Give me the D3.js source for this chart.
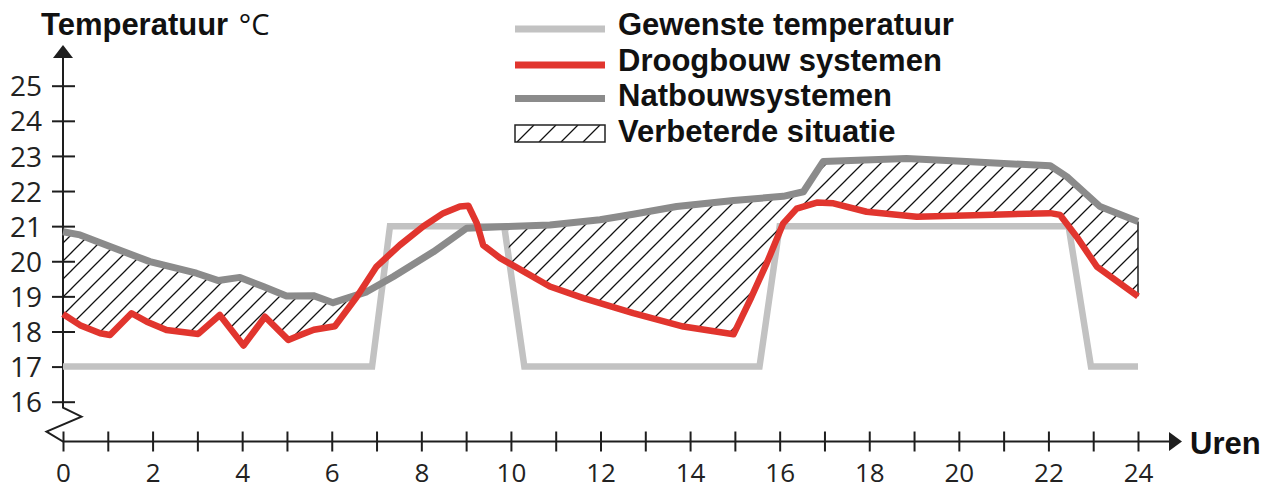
<!DOCTYPE html>
<html><head><meta charset="utf-8">
<script src="https://cdn.jsdelivr.net/npm/d3@7"></script>
<style>body{margin:0;background:#fff}</style>
</head><body>
<svg id="c" width="1273" height="490"></svg>
<script>
// ---- data ----
const hourTicks = d3.range(0, 25, 1);
const tempTicks = [16, 17, 18, 19, 20, 21, 22, 23, 24, 25];

const gewensteHours = [0, 6.9, 7.3, 9.85, 10.3, 15.55, 16.0, 22.45, 22.95, 24];
const gewensteTemp  = [17, 17, 21, 21, 17, 17, 21, 21, 17, 17];

const droogHours = [0, 0.38, 0.83, 1.05, 1.53, 1.87, 2.31, 3.02, 3.5, 4.03, 4.51, 5.03, 5.3, 5.6, 6.07, 6.56, 7.0, 7.52, 8.04, 8.49, 8.86, 9.05, 9.24, 9.38, 9.76, 10.35, 10.87, 11.62, 12.73, 13.85, 14.97, 15.34, 15.71, 16.08, 16.38, 16.83, 17.2, 17.94, 19.06, 20.55, 22.04, 22.26, 22.63, 23.08, 24];
const droogTemp  = [18.5, 18.18, 17.95, 17.9, 18.52, 18.28, 18.04, 17.93, 18.47, 17.6, 18.42, 17.76, 17.9, 18.05, 18.15, 18.99, 19.85, 20.46, 20.99, 21.37, 21.56, 21.58, 21.08, 20.46, 20.09, 19.66, 19.28, 18.95, 18.52, 18.14, 17.92, 18.9, 19.94, 21.08, 21.5, 21.67, 21.65, 21.41, 21.27, 21.32, 21.37, 21.32, 20.7, 19.85, 19.0];

const natHours = [0, 0.38, 1.05, 1.94, 2.98, 3.47, 3.95, 4.47, 4.99, 5.59, 6.03, 6.78, 7.37, 8.27, 9.01, 9.91, 10.87, 11.99, 12.73, 13.7, 14.97, 16.08, 16.53, 16.97, 18.83, 20.17, 22.04, 22.41, 23.15, 24];
const natTemp  = [20.84, 20.75, 20.42, 19.99, 19.66, 19.45, 19.54, 19.28, 19.01, 19.02, 18.82, 19.13, 19.56, 20.27, 20.94, 20.99, 21.03, 21.18, 21.34, 21.56, 21.73, 21.85, 21.98, 22.84, 22.93, 22.84, 22.72, 22.41, 21.56, 21.13];

// hour ranges where the "verbeterde situatie" hatch applies
const hatchStart = [0, 9.95];
const hatchEnd   = [6.4, 24];

const legendLabels = ["Gewenste temperatuur", "Droogbouw systemen", "Natbouwsystemen", "Verbeterde situatie"];

// ---- styles ----
const cLight = "#c2c2c2", cRed = "#e1352e", cDark = "#8b8b8b", cAxis = "#1e1e1e";
const boldFont = "'Liberation Sans', Arial, sans-serif";
const tickFont = "'Open Sans', 'Noto Sans', sans-serif";

const svg = d3.select("#c");
const x = d3.scaleLinear().domain([0, 24]).range([63, 1138]);
const y = d3.scaleLinear().domain([16, 25]).range([401.7, 85.7]);
const axisY = 441.5;

const defs = svg.append("defs");
const pat = defs.append("pattern").attr("id", "hatch").attr("patternUnits", "userSpaceOnUse")
  .attr("width", 18).attr("height", 18);
pat.append("path").attr("d", "M0,18 L18,0 M-4.5,4.5 L4.5,-4.5 M13.5,22.5 L22.5,13.5")
  .attr("stroke", "#111").attr("stroke-width", 1.3);
const pat2 = defs.append("pattern").attr("id", "hatchLeg").attr("patternUnits", "userSpaceOnUse")
  .attr("width", 22).attr("height", 17).attr("x", 515).attr("y", 125);
pat2.append("path").attr("d", "M2,17 L19,0")
  .attr("stroke", "#111").attr("stroke-width", 1.3);

const clip = defs.append("clipPath").attr("id", "hclip");
clip.selectAll("rect").data(hatchStart).join("rect")
  .attr("x", (d) => x(d)).attr("width", (d, i) => x(hatchEnd[i]) - x(d))
  .attr("y", 0).attr("height", 490);

const zip = (hs, ts) => hs.map((h, i) => [h, ts[i]]);
const gew = zip(gewensteHours, gewensteTemp);
const droog = zip(droogHours, droogTemp);
const nat = zip(natHours, natTemp);

const line = d3.line().x(d => x(d[0])).y(d => y(d[1]));

// ---- axes ----
const yAxis = d3.axisLeft(y).tickValues(tempTicks).tickFormat(d3.format("d"));
const gy = svg.append("g").attr("transform", `translate(${x(0)},0)`).call(yAxis);
gy.select(".domain").remove();
gy.selectAll(".tick line").attr("x1", -11).attr("x2", 12).attr("stroke", cAxis).attr("stroke-width", 2);
gy.selectAll(".tick text").attr("x", -21).attr("dy", "0.36em")
  .style("font-family", tickFont).style("font-size", "28px").attr("fill", "#222");

const xAxis = d3.axisBottom(x).tickValues(hourTicks).tickFormat(d => d % 2 === 0 ? d : "");
const gx = svg.append("g").attr("transform", `translate(0,${axisY})`).call(xAxis);
gx.select(".domain").remove();
gx.selectAll(".tick line").attr("y1", -10).attr("y2", 10).attr("stroke", cAxis).attr("stroke-width", 2);
gx.selectAll(".tick text").attr("y", 40.5).attr("dy", 0)
  .style("font-family", tickFont).style("font-size", "26px").attr("fill", "#222");

// axis lines, arrows, break
svg.append("path")
  .attr("d", `M${x(0)},56 L${x(0)},${y(16) + 6} L${x(0) + 18.5},${y(16) + 15} L${x(0) - 16.5},${y(16) + 30} L${x(0)},${axisY} L1171,${axisY}`)
  .attr("fill", "none").attr("stroke", cAxis).attr("stroke-width", 2).attr("stroke-linejoin", "miter");
svg.append("path").attr("d", `M${x(0)},45 L${x(0) - 10},58 L${x(0) + 10},58 Z`).attr("fill", cAxis);
svg.append("path").attr("d", `M1182,${axisY} L1169,${axisY - 9.5} L1169,${axisY + 9.5} Z`).attr("fill", cAxis);

// ---- marks ----
svg.append("path").datum(gew).attr("d", line)
  .attr("fill", "none").attr("stroke", cLight).attr("stroke-width", 6.5).attr("stroke-linejoin", "miter");

const hatchPoly = nat.concat(droog.slice().reverse());
svg.append("path").attr("d", line(hatchPoly) + "Z")
  .attr("fill", "url(#hatch)").attr("clip-path", "url(#hclip)");
// right edge of hatched area
const lastN = nat[nat.length - 1], lastD = droog[droog.length - 1];
svg.append("line").attr("x1", x(lastN[0])).attr("x2", x(lastD[0]))
  .attr("y1", y(lastN[1])).attr("y2", y(lastD[1])).attr("stroke", "#222").attr("stroke-width", 1.5);

svg.append("path").datum(nat).attr("d", line)
  .attr("fill", "none").attr("stroke", cDark).attr("stroke-width", 7).attr("stroke-linejoin", "round");
svg.append("path").datum(droog).attr("d", line)
  .attr("fill", "none").attr("stroke", cRed).attr("stroke-width", 6.5).attr("stroke-linejoin", "round");

// ---- title ----
const t = svg.append("text").attr("x", 41).attr("y", 34.5).attr("fill", "#111")
  .style("font-family", boldFont).style("font-size", "31px");
t.append("tspan").style("font-weight", "bold").text("Temperatuur ");
t.append("tspan").style("font-family", tickFont).style("font-size", "29px").attr("dx", 2).text("°C");

svg.append("text").attr("x", 1190).attr("y", 453.5).attr("fill", "#111")
  .style("font-family", boldFont).style("font-size", "31px").style("font-weight", "bold").text("Uren");

// ---- legend ----
const legendColors = [cLight, cRed, cDark];
const legendLineY = [29, 65, 98.5];
const leg = svg.append("g");
leg.selectAll("line").data(legendColors).join("line")
  .attr("x1", 515).attr("x2", 605).attr("y1", (d, i) => legendLineY[i]).attr("y2", (d, i) => legendLineY[i])
  .attr("stroke", d => d).attr("stroke-width", 7);
leg.append("rect").attr("x", 515).attr("y", 125).attr("width", 90).attr("height", 17)
  .attr("fill", "url(#hatchLeg)").attr("stroke", "#222").attr("stroke-width", 1.5);
const legendBase = [35, 70.5, 105.5, 141.5];
leg.selectAll("text").data(legendLabels).join("text")
  .attr("x", 618).attr("y", (d, i) => legendBase[i]).attr("fill", "#111")
  .style("font-family", boldFont).style("font-size", "31px").style("font-weight", "bold")
  .text(d => d);
</script>
</body></html>
